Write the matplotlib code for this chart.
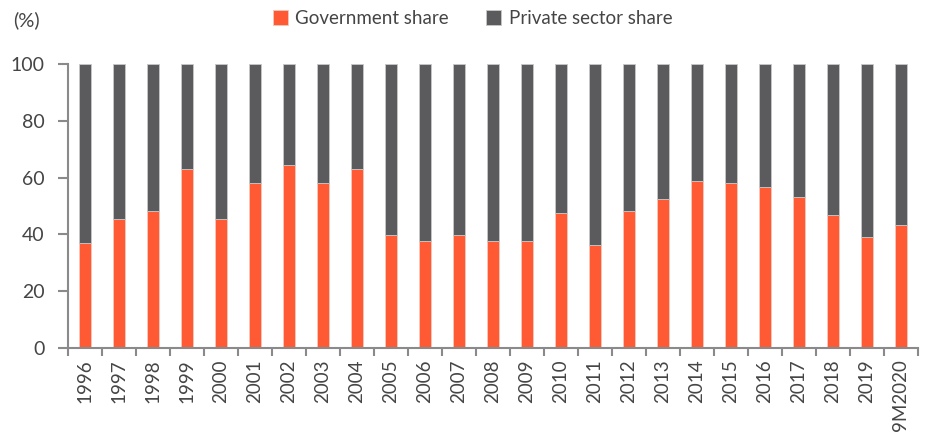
import matplotlib.pyplot as plt
import numpy as np

# Years shown on the x axis
years = ["1996", "1997", "1998", "1999", "2000", "2001", "2002", "2003", "2004",
         "2005", "2006", "2007", "2008", "2009", "2010", "2011", "2012", "2013",
         "2014", "2015", "2016", "2017", "2018", "2019", "9M2020"]

# Government share of total (%)
gov_share = [37, 45.4, 48.2, 63, 45.4, 58, 64.4, 58, 63, 39.8, 37.7, 39.8, 37.7,
             37.7, 47.5, 36.3, 48.2, 52.5, 58.8, 58, 56.7, 53.2, 46.8, 39.1, 43.3]
# Private sector makes up the rest
private_share = [100 - g for g in gov_share]

ORANGE = "#ff5a33"
GREY = "#5b5b5d"
TEXT = "#454545"
AXIS = "#8a8a8a"

plt.rcParams["font.family"] = ["Lato", "DejaVu Sans"]

fig = plt.figure(figsize=(9.3, 4.44), dpi=100)
ax = fig.add_axes([0.073, 0.216, 0.914, 0.64])

x = np.arange(len(years))
ax.bar(x, gov_share, width=0.36, color=ORANGE, edgecolor="#f3c9bd",
       linewidth=0.6, label="Government share")
ax.bar(x, private_share, width=0.36, bottom=gov_share, color=GREY,
       edgecolor="#c8c8c8", linewidth=0.6, label="Private sector share")

ax.set_xlim(-0.5, len(years) - 0.5)
ax.set_ylim(0, 100)

# Labels at the bar centres, tick marks between bars
ax.set_xticks(x)
ax.set_xticklabels(years, rotation=90, fontsize=13.5, color=TEXT)
ax.tick_params(axis="x", which="major", length=0, pad=8)
ax.set_xticks(np.arange(-0.5, len(years)), minor=True)
ax.tick_params(axis="x", which="minor", length=6, width=1.5, color=AXIS)

ax.set_yticks(range(0, 101, 20))
ax.tick_params(axis="y", length=7, width=1.5, color=AXIS, labelsize=14,
               labelcolor=TEXT, pad=10)

for side in ["top", "right"]:
    ax.spines[side].set_visible(False)
for side in ["left", "bottom"]:
    ax.spines[side].set_color(AXIS)
    ax.spines[side].set_linewidth(1.5)

fig.text(0.014, 0.955, "(%)", fontsize=14.5, color=TEXT, va="center")

fig.legend(loc="center", bbox_to_anchor=(0.508, 0.958), ncol=2, frameon=False,
           fontsize=13.5, handlelength=0.8, handleheight=0.8, handletextpad=0.4,
           columnspacing=2.0, labelcolor=TEXT)

plt.savefig("out.png", dpi=100)
